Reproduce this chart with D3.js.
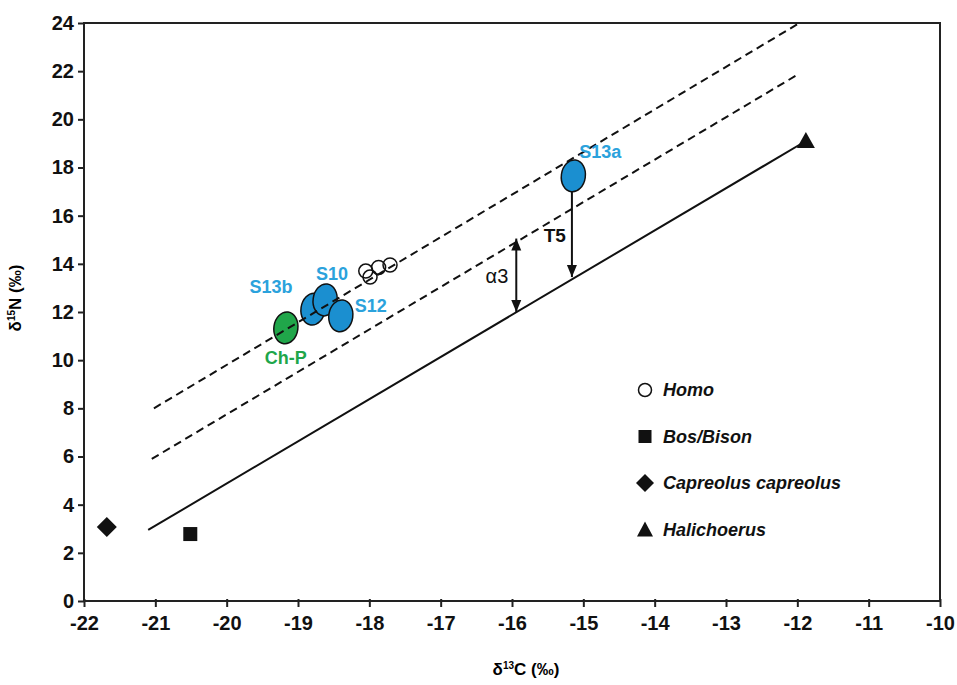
<!DOCTYPE html>
<html>
<head>
<meta charset="utf-8">
<script src="https://cdn.jsdelivr.net/npm/d3@7"></script>
<style>
  body { margin: 0; background: #fff; }
  text { font-family: "Liberation Sans", Arial, sans-serif; }
  .tick text { font-weight: bold; font-size: 20px; }
</style>
</head>
<body>
<div id="chart"></div>
<script>
// data
var xTicks = [-22, -21, -20, -19, -18, -17, -16, -15, -14, -13, -12, -11, -10];
var yTicks = [0, 2, 4, 6, 8, 10, 12, 14, 16, 18, 20, 22, 24];

var homo = [[-18.05, 13.7], [-17.99, 13.45], [-17.87, 13.85], [-17.71, 13.95]];
var bosBison = [[-20.51, 2.78]];
var capreolus = [[-21.68, 3.07]];
var halichoerus = [[-11.88, 19.1]];

// samples
var sampleNames = ["S13b", "S10", "S12", "Ch-P", "S13a"];
var sampleX = [-18.79, -18.62, -18.40, -19.17, -15.14];
var sampleY = [12.12, 12.5, 11.84, 11.34, 17.65];
var sampleGroup = ["blue", "blue", "blue", "green", "blue"];

var solidLine = [[-21.1, 2.95], [-11.88, 19.1]];
var dashLow = [[-21.05, 5.9], [-12.0, 21.85]];
var dashHigh = [[-21.02, 8.0], [-11.97, 24.0]];

var arrowA3 = [-15.94, 12.0, 15.05];
var arrowT5 = [-15.16, 13.45, 18.3];

var legendItems = ["Homo", "Bos/Bison", "Capreolus capreolus", "Halichoerus"];

var margin = {top: 23, right: 17, bottom: 84, left: 84},
    width = 957 - margin.left - margin.right,
    height = 685 - margin.top - margin.bottom;

var svg = d3.select("#chart").append("svg")
    .attr("width", 957)
    .attr("height", 685)
  .append("g")
    .attr("transform", "translate(" + margin.left + "," + margin.top + ")");

var x = d3.scaleLinear().domain([-22, -10]).range([0, width]);
var y = d3.scaleLinear().domain([0, 24]).range([height, 0]);

var defs = svg.append("defs");
defs.append("marker")
    .attr("id", "ah")
    .attr("viewBox", "0 0 12 12")
    .attr("refX", 12).attr("refY", 6)
    .attr("markerWidth", 12).attr("markerHeight", 12)
    .attr("markerUnits", "userSpaceOnUse")
    .attr("orient", "auto-start-reverse")
  .append("path")
    .attr("d", "M0,1L12,6L0,11Z")
    .attr("fill", "#111");

// frame
svg.append("rect")
    .attr("width", width).attr("height", height)
    .attr("fill", "none").attr("stroke", "#222").attr("stroke-width", 2);

var fmt = function(d) { return String(d); };
var xAxis = svg.append("g")
    .attr("transform", "translate(0," + height + ")")
    .call(d3.axisBottom(x).tickValues(xTicks).tickSize(6).tickPadding(9).tickFormat(fmt));
var yAxis = svg.append("g")
    .call(d3.axisLeft(y).tickValues(yTicks).tickSize(6).tickPadding(4).tickFormat(fmt));

[xAxis, yAxis].forEach(function(a) {
  a.select(".domain").remove();
  a.selectAll("line").attr("stroke", "#222").attr("stroke-width", 2);
  a.selectAll("text").attr("fill", "#111");
});
xAxis.selectAll("line").attr("y1", -2);

// axis titles
svg.append("text")
    .attr("x", 442).attr("y", 652)
    .attr("text-anchor", "middle")
    .style("font-size", "17px").style("font-weight", "bold")
    .html("δ<tspan dy='-6' font-size='10'>13</tspan><tspan dy='6'>C (‰)</tspan>");
svg.append("text")
    .attr("transform", "translate(-63," + 275 + ") rotate(-90)")
    .attr("text-anchor", "middle")
    .style("font-size", "17px").style("font-weight", "bold")
    .html("δ<tspan dy='-6' font-size='10'>15</tspan><tspan dy='6'>N (‰)</tspan>");

var line = d3.line().x(function(d) { return x(d[0]); }).y(function(d) { return y(d[1]); });

svg.append("path").datum(solidLine).attr("d", line)
    .attr("fill", "none").attr("stroke", "#111").attr("stroke-width", 2);
svg.append("path").datum(dashLow).attr("d", line)
    .attr("fill", "none").attr("stroke", "#111").attr("stroke-width", 2)
    .attr("stroke-dasharray", "8,5");

// arrows
[arrowA3, arrowT5].forEach(function(a) {
  svg.append("line")
      .attr("x1", x(a[0])).attr("x2", x(a[0]))
      .attr("y1", y(a[1])).attr("y2", y(a[2]))
      .attr("stroke", "#111").attr("stroke-width", 2)
      .attr("marker-start", "url(#ah)").attr("marker-end", "url(#ah)");
});
svg.append("text").attr("x", x(arrowA3[0]) - 8).attr("y", y(13.2))
    .attr("text-anchor", "end")
    .style("font-size", "20px").attr("fill", "#111").text("α3");
svg.append("text").attr("x", x(arrowT5[0]) - 6).attr("y", y(14.9))
    .attr("text-anchor", "end")
    .style("font-size", "19px").style("font-weight", "bold").attr("fill", "#111").text("T5");

// fauna
svg.selectAll(".homo").data(homo).join("circle")
    .attr("cx", function(d) { return x(d[0]); })
    .attr("cy", function(d) { return y(d[1]); })
    .attr("r", 7)
    .attr("fill", "none").attr("stroke", "#111").attr("stroke-width", 1.5);

svg.selectAll(".bos").data(bosBison).join("rect")
    .attr("x", function(d) { return x(d[0]) - 7; })
    .attr("y", function(d) { return y(d[1]) - 7; })
    .attr("width", 14).attr("height", 14).attr("fill", "#111");

svg.selectAll(".cap").data(capreolus).join("path")
    .attr("transform", function(d) { return "translate(" + x(d[0]) + "," + y(d[1]) + ")"; })
    .attr("d", "M0,-10L10,0L0,10L-10,0Z").attr("fill", "#111");

svg.selectAll(".hal").data(halichoerus).join("path")
    .attr("transform", function(d) { return "translate(" + x(d[0]) + "," + y(d[1]) + ")"; })
    .attr("d", "M0,-9L9,7L-9,7Z").attr("fill", "#111");

// samples
var colors = {blue: "#1b8fd0", green: "#20a64a"};
var labelColors = {blue: "#2ba2dc", green: "#20a64a"};
var order = [3, 0, 1, 2, 4];
order.forEach(function(i) {
  svg.append("ellipse")
      .attr("cx", x(sampleX[i])).attr("cy", y(sampleY[i]))
      .attr("rx", 12).attr("ry", 16)
      .attr("transform", "rotate(8," + x(sampleX[i]) + "," + y(sampleY[i]) + ")")
      .attr("fill", colors[sampleGroup[i]])
      .attr("stroke", "#111").attr("stroke-width", 1.5);
});
// upper dashed line runs over the samples
svg.append("path").datum(dashHigh).attr("d", line)
    .attr("fill", "none").attr("stroke", "#111").attr("stroke-width", 2)
    .attr("stroke-dasharray", "8,5");

var labelDx = [-42, 7, 30, 0, 27];
var labelDy = [-16, -20, -4, 36, -18];
sampleNames.forEach(function(n, i) {
  svg.append("text")
      .attr("x", x(sampleX[i]) + labelDx[i])
      .attr("y", y(sampleY[i]) + labelDy[i])
      .attr("text-anchor", "middle")
      .attr("fill", labelColors[sampleGroup[i]])
      .style("font-size", "18px").style("font-weight", "bold")
      .text(n);
});

// legend
var legend = svg.append("g").attr("transform", "translate(" + (645 - margin.left) + "," + (390 - margin.top) + ")");
legendItems.forEach(function(name, i) {
  var g = legend.append("g").attr("transform", "translate(0," + (i * 46.5) + ")");
  if (i === 0) g.append("circle").attr("r", 6.5).attr("fill", "none").attr("stroke", "#111").attr("stroke-width", 1.5);
  if (i === 1) g.append("rect").attr("x", -6.5).attr("y", -6.5).attr("width", 13).attr("height", 13).attr("fill", "#111");
  if (i === 2) g.append("path").attr("d", "M0,-9L9,0L0,9L-9,0Z").attr("fill", "#111");
  if (i === 3) g.append("path").attr("d", "M0,-8L8,7L-8,7Z").attr("fill", "#111");
  g.append("text")
      .attr("x", 18).attr("y", 6)
      .style("font-size", "18px").style("font-weight", "bold").style("font-style", "italic")
      .attr("fill", "#111")
      .text(name);
});
</script>
</body>
</html>
